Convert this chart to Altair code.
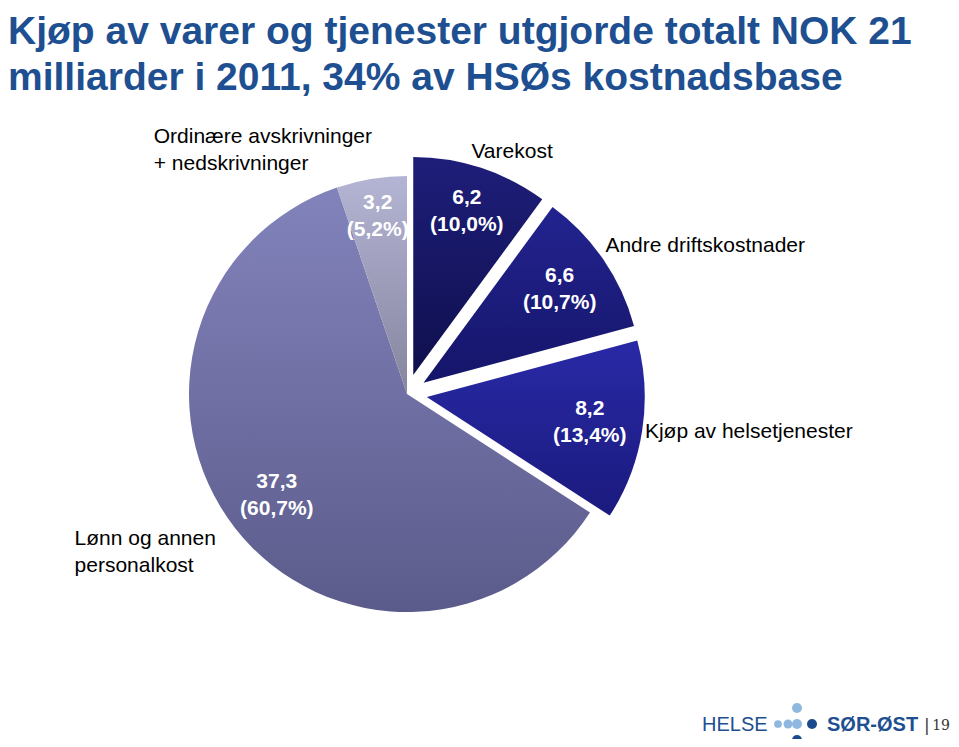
import altair as alt
import pandas as pd

# ---------------- data ----------------
categories = ["Varekost", "Andre driftskostnader", "Kjøp av helsetjenester",
              "Lønn og annen personalkost", "Ordinære avskrivninger + nedskrivninger"]
values_bn = [6.2, 6.6, 8.2, 37.3, 3.2]
value_text = ["6,2", "6,6", "8,2", "37,3", "3,2"]
share_text = ["(10,0%)", "(10,7%)", "(13,4%)", "(60,7%)", "(5,2%)"]
label_text = ["Varekost", "Andre driftskostnader", "Kjøp av helsetjenester",
              "Lønn og annen\npersonalkost", "Ordinære avskrivninger\n+ nedskrivninger"]
title_lines = ["Kjøp av varer og tjenester utgjorde totalt NOK 21",
               "milliarder i 2011, 34% av HSØs kostnadsbase"]
page_number = "19"

# ---------------- style ----------------
M = 8                      # page margin
W, H = 959 - 2 * M, 747 - 2 * M
CX, CY = 407 - M, 394 - M  # pie centre (chart px)
R = 218
EXPLODE = 20
exploded = set(categories[:3])        # purchases of goods and services
value_r = [172, 165, 165, 165, 180]
VAL_LH = 27
label_r = 235
label_nudge = [(-15, 6), (-12, 2), (-14, 4), (-147, 7), (-215, -19)]
gradients = [
    ("#1e1e7a", "#0f0f4e"),
    ("#232390", "#15156a"),
    ("#2929a6", "#1a1a7e"),
    ("#8383bc", "#5b5b8b"),
    ("#b4b4d4", "#85859f"),
]
TITLE_COLOR = "#1d4f91"
FONT = "Liberation Sans"

df = pd.DataFrame({
    "cat": categories,
    "value": values_bn,
    "vtext": [f"{v}\n{s}" for v, s in zip(value_text, share_text)],
    "ltext": label_text,
    "order": list(range(len(categories))),
    "off": [EXPLODE if c in exploded else 0 for c in categories],
    "vr": value_r,
    "ndx": [n[0] for n in label_nudge],
    "ndy": [n[1] for n in label_nudge],
})

base = (
    alt.Chart(df)
    .transform_joinaggregate(total="sum(value)")
    .transform_window(cum="sum(value)", sort=[alt.SortField("order")], frame=[None, 0])
    .transform_calculate(
        a0="(datum.cum - datum.value) / datum.total * 2 * PI",
        a1="datum.cum / datum.total * 2 * PI",
    )
    .transform_calculate(mid="(datum.a0 + datum.a1) / 2")
    .transform_calculate(
        cx=f"{CX} + sin(datum.mid) * datum.off",
        cy=f"{CY} - cos(datum.mid) * datum.off",
    )
    .transform_calculate(
        vx="datum.cx + sin(datum.mid) * datum.vr",
        vy=f"datum.cy - cos(datum.mid) * datum.vr - {VAL_LH / 2}",
        lx=f"datum.cx + sin(datum.mid) * {label_r} + datum.ndx",
        ly=f"datum.cy - cos(datum.mid) * {label_r} + datum.ndy",
    )
)

layers = []
for cat, (c_top, c_bot) in zip(categories, gradients):
    grad = alt.Gradient(
        gradient="linear",
        stops=[alt.GradientStop(color=c_top, offset=0), alt.GradientStop(color=c_bot, offset=1)],
        x1=0, x2=0, y1=0, y2=1,
    )
    layers.append(
        base.transform_filter(alt.datum.cat == cat)
        .mark_arc(radius=R, color=grad, stroke=None)
        .encode(
            x=alt.X("cx:Q", scale=None, axis=None),
            y=alt.Y("cy:Q", scale=None, axis=None),
            theta=alt.Theta("a0:Q", scale=None),
            theta2=alt.Theta2("a1:Q"),
        )
    )

values_layer = base.mark_text(
    font=FONT, fontSize=21, fontWeight="bold", color="white",
    align="center", baseline="middle", lineBreak="\n", lineHeight=VAL_LH,
).encode(
    x=alt.X("vx:Q", scale=None, axis=None),
    y=alt.Y("vy:Q", scale=None, axis=None),
    text="vtext:N",
)

labels_layer = base.mark_text(
    font=FONT, fontSize=21, color="#000000",
    align="left", baseline="alphabetic", lineBreak="\n", lineHeight=27,
).encode(
    x=alt.X("lx:Q", scale=None, axis=None),
    y=alt.Y("ly:Q", scale=None, axis=None),
    text="ltext:N",
)

title_layers = []
for line, base_y in zip(title_lines, [44, 90]):
    title_layers.append(
        alt.Chart(pd.DataFrame({"t": [line]})).mark_text(
            font=FONT, fontSize=39, fontWeight="bold", color=TITLE_COLOR,
            align="left", baseline="alphabetic",
        ).encode(x=alt.value(0), y=alt.value(base_y - M), text="t:N")
    )

# footer logo
helse = alt.Chart(pd.DataFrame({"t": ["HELSE"]})).mark_text(
    font=FONT, fontSize=20, color=TITLE_COLOR, align="left", baseline="alphabetic"
).encode(x=alt.value(702 - M), y=alt.value(731 - M), text="t:N")
sorost = alt.Chart(pd.DataFrame({"t": ["SØR-ØST"]})).mark_text(
    font=FONT, fontSize=20, fontWeight="bold", color=TITLE_COLOR, align="left", baseline="alphabetic"
).encode(x=alt.value(827 - M), y=alt.value(731 - M), text="t:N")
pipe = alt.Chart(pd.DataFrame({"t": ["|"]})).mark_text(
    font="DejaVu Serif", fontSize=17, color="#333333", align="left", baseline="alphabetic"
).encode(x=alt.value(924 - M), y=alt.value(731 - M), text="t:N")
pnum = alt.Chart(pd.DataFrame({"t": [page_number]})).mark_text(
    font="DejaVu Serif", fontSize=14, color="#333333", align="right", baseline="alphabetic"
).encode(x=alt.value(950 - M), y=alt.value(730 - M), text="t:N")

dot_light = "#8fb8e0"
dot_dark = "#1a4b8c"
dots = []
for (dx, dy, col, sz) in [(797, 708, dot_light, 100), (778, 724, dot_light, 60), (788, 724, dot_light, 80),
                          (797, 724, dot_light, 100), (812, 724, dot_dark, 100), (797, 740, dot_dark, 100)]:
    dots.append(
        alt.Chart(pd.DataFrame({"d": [0]})).mark_circle(color=col, opacity=1, size=sz)
        .encode(x=alt.value(dx - M), y=alt.value(dy - M))
    )

chart = alt.layer(*layers, values_layer, labels_layer, *title_layers, helse, sorost, pipe, pnum, *dots).properties(
    width=W, height=H, padding=0, autosize=alt.AutoSizeParams(type="none"),
).configure_view(stroke=None)

chart.save("out.html", embed_options={"renderer": "svg", "actions": False})
